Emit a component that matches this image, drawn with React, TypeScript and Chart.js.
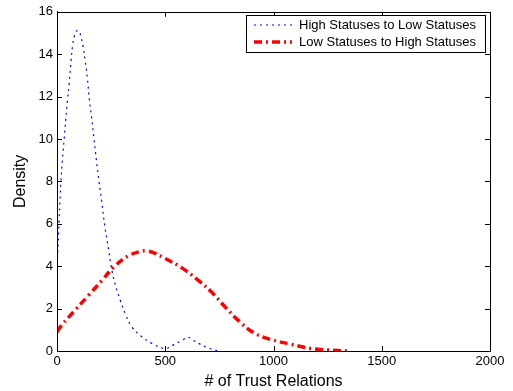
import React, { useEffect, useRef } from "react";
import { Chart, registerables } from "chart.js";

Chart.register(...registerables);

const seriesLabels = ["High Statuses to Low Statuses", "Low Statuses to High Statuses"];

const highX = [0, 5, 10, 18, 25, 33, 41, 49, 56, 65, 72, 80, 88, 96, 104, 111, 120, 130, 140, 150, 160, 171, 182, 194, 207, 222, 238, 250, 268, 292, 315, 346, 392, 438, 500, 540, 577, 605, 630, 654, 690, 716, 745];
const highY = [3.8, 5.0, 6.2, 8.0, 9.0, 10.0, 11.0, 11.9, 12.6, 13.7, 14.4, 14.86, 15.05, 15.13, 15.05, 14.8, 14.4, 13.7, 12.9, 11.8, 11.0, 10.0, 9.0, 8.0, 7.0, 5.8, 4.8, 4.0, 3.17, 2.4, 1.77, 1.14, 0.67, 0.36, 0.12, 0.3, 0.5, 0.65, 0.5, 0.36, 0.18, 0.08, 0];

const lowX = [0, 22, 83, 145, 207, 261, 330, 380, 415, 455, 500, 577, 654, 716, 778, 840, 909, 986, 1079, 1171, 1248, 1347];
const lowY = [0.9, 1.22, 1.92, 2.62, 3.32, 3.95, 4.49, 4.68, 4.72, 4.6, 4.36, 3.92, 3.32, 2.76, 2.06, 1.42, 0.86, 0.55, 0.32, 0.12, 0.05, 0];

const xTicks = [0, 500, 1000, 1500, 2000];
const yTicks = [0, 2, 4, 6, 8, 10, 12, 14, 16];

const FONT = "'Liberation Sans', Arial, Helvetica, sans-serif";

const framePlugin = {
  id: "frameAndLegend",
  afterDraw(chart: any) {
    const { ctx, chartArea } = chart;
    const { left, right, top, bottom } = chartArea;
    const xs = chart.scales.x;
    const ys = chart.scales.y;
    ctx.save();
    ctx.strokeStyle = "#000";
    ctx.lineWidth = 1;
    ctx.setLineDash([]);
    ctx.strokeRect(Math.round(left) + 0.5, Math.round(top) + 0.5, Math.round(right - left), Math.round(bottom - top));
    const tl = 5;
    ctx.beginPath();
    xTicks.forEach((v) => {
      const px = Math.round(xs.getPixelForValue(v)) + 0.5;
      ctx.moveTo(px, bottom);
      ctx.lineTo(px, bottom - tl);
      ctx.moveTo(px, top);
      ctx.lineTo(px, top + tl);
    });
    yTicks.forEach((v) => {
      const py = Math.round(ys.getPixelForValue(v)) + 0.5;
      ctx.moveTo(left, py);
      ctx.lineTo(left + tl, py);
      ctx.moveTo(right, py);
      ctx.lineTo(right - tl, py);
    });
    ctx.stroke();

    // legend
    const bx = 246.5, by = 15.5, bw = 239, bh = 37;
    ctx.fillStyle = "#fff";
    ctx.fillRect(bx, by, bw, bh);
    ctx.strokeStyle = "#000";
    ctx.strokeRect(bx, by, bw, bh);
    const rows = [25, 42];
    chart.data.datasets.forEach((ds: any, i: number) => {
      const y = rows[i];
      ctx.save();
      ctx.strokeStyle = ds.borderColor;
      ctx.lineWidth = ds.borderWidth;
      ctx.setLineDash(ds.borderDash || []);
      ctx.beginPath();
      ctx.moveTo(254, y);
      ctx.lineTo(292, y);
      ctx.stroke();
      ctx.restore();
      ctx.fillStyle = "#000";
      ctx.font = `13px ${FONT}`;
      ctx.textBaseline = "middle";
      ctx.textAlign = "left";
      ctx.fillText(ds.label, 299, y + 0.5);
    });
    ctx.restore();
  },
};

export default function App() {
  const ref = useRef<HTMLCanvasElement>(null);
  useEffect(() => {
    if (!ref.current) return;
    const chart = new Chart(ref.current, {
      type: "line",
      data: {
        datasets: [
          {
            label: seriesLabels[0],
            data: highX.map((x, i) => ({ x, y: highY[i] })),
            borderColor: "#0000ff",
            borderWidth: 1.2,
            borderDash: [2, 4],
            pointRadius: 0,
            fill: false,
            tension: 0.4,
          },
          {
            label: seriesLabels[1],
            data: lowX.map((x, i) => ({ x, y: lowY[i] })),
            borderColor: "#ff0000",
            borderWidth: 3.5,
            borderDash: [8, 4, 2, 4],
            pointRadius: 0,
            fill: false,
            tension: 0.4,
          },
        ],
      },
      options: {
        responsive: false,
        animation: false,
        layout: { padding: { top: 9, right: 23, left: 0, bottom: 0 } },
        plugins: { legend: { display: false }, tooltip: { enabled: false } },
        scales: {
          x: {
            type: "linear",
            min: 0,
            max: 2000,
            afterFit: (s: any) => {
              s.height = 40;
            },
            afterBuildTicks: (s: any) => {
              s.ticks = xTicks.map((v) => ({ value: v }));
            },
            grid: { display: false, drawTicks: false },
            border: { display: true, color: "#000" },
            ticks: {
              color: "#000",
              font: { size: 13, family: FONT },
              padding: 3,
              maxRotation: 0,
              callback: (v: any) => String(v),
            },
            title: {
              display: true,
              text: "# of Trust Relations",
              color: "#000",
              font: { size: 16, family: FONT },
              padding: { top: 0, bottom: 0 },
            },
          },
          y: {
            type: "linear",
            min: 0,
            max: 16,
            afterFit: (s: any) => {
              s.width = 57;
            },
            afterBuildTicks: (s: any) => {
              s.ticks = yTicks.map((v) => ({ value: v }));
            },
            grid: { display: false, drawTicks: false },
            border: { display: true, color: "#000" },
            ticks: {
              color: "#000",
              font: { size: 13, family: FONT },
              padding: 4,
              callback: (v: any) => String(v),
            },
            title: {
              display: true,
              text: "Density",
              color: "#000",
              font: { size: 16, family: FONT },
              padding: { top: 11, bottom: 0 },
            },
          },
        },
      },
      plugins: [framePlugin],
    } as any);
    return () => chart.destroy();
  }, []);
  return (
    <div style={{ position: "fixed", left: 0, top: 0, width: 513, height: 391, background: "#fff" }}>
      <canvas ref={ref} width={513} height={391} />
    </div>
  );
}
